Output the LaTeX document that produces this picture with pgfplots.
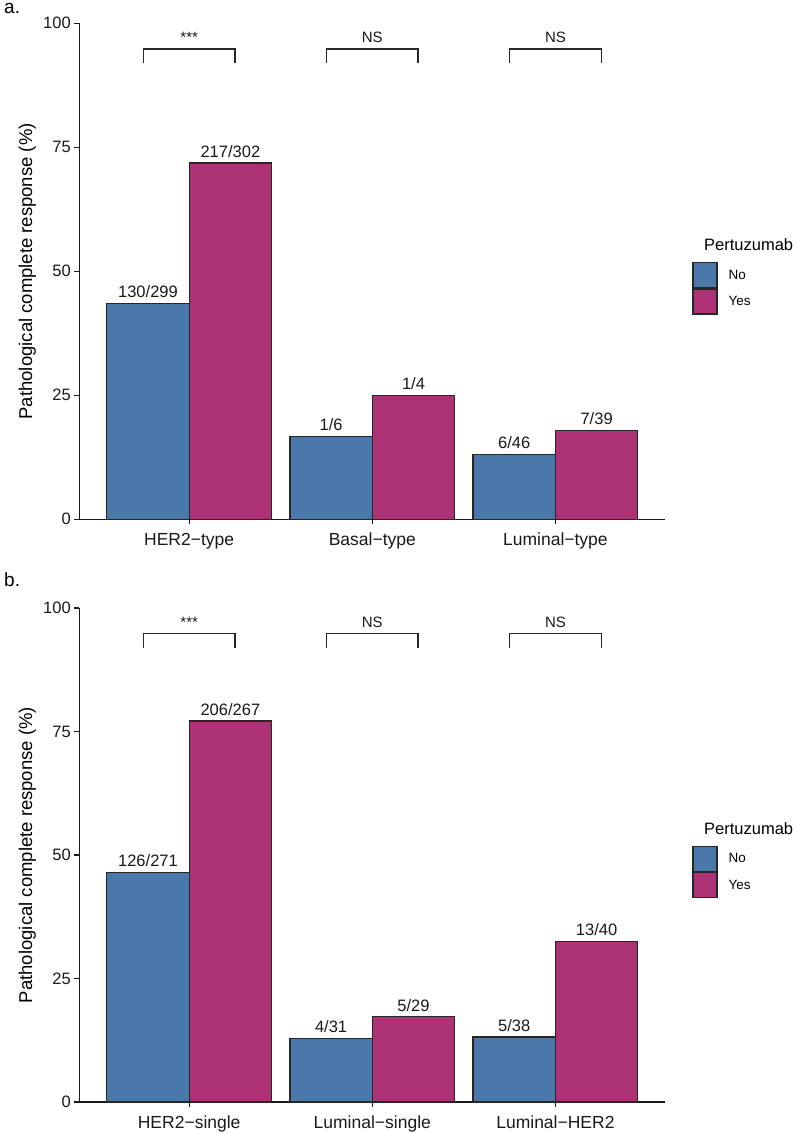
\documentclass[border=0pt]{standalone}
\usepackage{fontspec}
\setmainfont{Liberation Sans}
\usepackage{pgfplots}
\pgfplotsset{compat=1.18}

\definecolor{cNo}{RGB}{74,120,170}
\definecolor{cYes}{RGB}{173,49,117}
\newcommand\fs[1]{\fontsize{#1bp}{#1bp}\selectfont}
\newcommand\bracket[3]{%
  \draw[line width=1.3bp, black!85] (axis cs:#1,92) -- (axis cs:#1,94.8) -- (axis cs:#2,94.8) -- (axis cs:#2,92);
  \node[anchor=base, font=\fs{15}, inner sep=0pt, text=black!90] at (axis cs:{(#1+#2)/2},96.1) {#3};}

\pgfplotsset{
 panel/.style={
  scale only axis, width=586bp,
  xmin=0.4, xmax=3.6, ymin=0, ymax=100,
  axis x line=bottom, axis y line=left,
  axis line style={-, line width=1.3bp, black!90},
  xtick={1,2,3}, ytick={0,25,50,75,100},
  tick align=outside, major tick length=5bp,
  tick style={line width=1.3bp, black!90},
  ticklabel style={font=\fs{16.5}, text=black!90},
  xticklabel style={yshift=-5bp, font=\fs{17.5}},
  /pgf/number format/assume math mode=true,
  ybar=0pt, bar width=0.45,
  clip=false,
  ylabel={Pathological complete response (\%)},
  every axis y label/.style={at={(axis description cs:0,0.5)}, xshift=-52bp, rotate=90, anchor=center, font=\fs{18.5}},
  nodes near coords, point meta=explicit symbolic,
  every node near coord/.append style={font=\fs{16.5}, anchor=south, inner sep=0pt, yshift=5bp, text=black!90},
  legend style={at={(1.0456,0.519)}, anchor=north west, draw=none, fill=none, inner sep=0pt, row sep=0pt, font=\fs{13.5}, nodes={inner sep=0pt}},
  legend cell align=left,
 },
 keybox/.style={legend image code/.code={\draw[##1, line width=1.3bp] (0bp,-12.5bp) rectangle (24bp,12.5bp);}},
}

\begin{document}
\begin{tikzpicture}
\useasboundingbox (0,0) rectangle (797bp,1133bp);
\node[anchor=base west, font=\fs{19}, inner sep=0pt] at (4bp,1119bp) {a.};
\node[anchor=base west, font=\fs{19}, inner sep=0pt] at (4bp,546bp) {b.};

\begin{axis}[panel, at={(79.3bp,613.7bp)}, anchor=south west, height=496bp,
  xticklabels={HER2−type, Basal−type, Luminal−type}]
\addplot[fill=cNo, draw=black!85, line width=1.3bp, keybox] coordinates {(1,43.48)[130/299] (2,16.67)[1/6] (3,13.04)[6/46]};
\addplot[fill=cYes, draw=black!85, line width=1.3bp, keybox] coordinates {(1,71.85)[217/302] (2,25.00)[1/4] (3,17.95)[7/39]};
\legend{\hspace*{11bp}No, \hspace*{11bp}Yes}
\bracket{0.75}{1.25}{***}
\bracket{1.75}{2.25}{NS}
\bracket{2.75}{3.25}{NS}
\node[anchor=west, font=\fs{16.5}, inner sep=0pt] at (axis description cs:1.066,0.553) {Pertuzumab};
\end{axis}

\begin{axis}[panel, at={(79.3bp,31bp)}, anchor=south west, height=494bp,
  xticklabels={HER2−single, Luminal−single, Luminal−HER2}]
\addplot[fill=cNo, draw=black!85, line width=1.3bp, keybox] coordinates {(1,46.49)[126/271] (2,12.90)[4/31] (3,13.16)[5/38]};
\addplot[fill=cYes, draw=black!85, line width=1.3bp, keybox] coordinates {(1,77.15)[206/267] (2,17.24)[5/29] (3,32.50)[13/40]};
\legend{\hspace*{11bp}No, \hspace*{11bp}Yes}
\bracket{0.75}{1.25}{***}
\bracket{1.75}{2.25}{NS}
\bracket{2.75}{3.25}{NS}
\node[anchor=west, font=\fs{16.5}, inner sep=0pt] at (axis description cs:1.066,0.553) {Pertuzumab};
\end{axis}
\end{tikzpicture}
\end{document}
